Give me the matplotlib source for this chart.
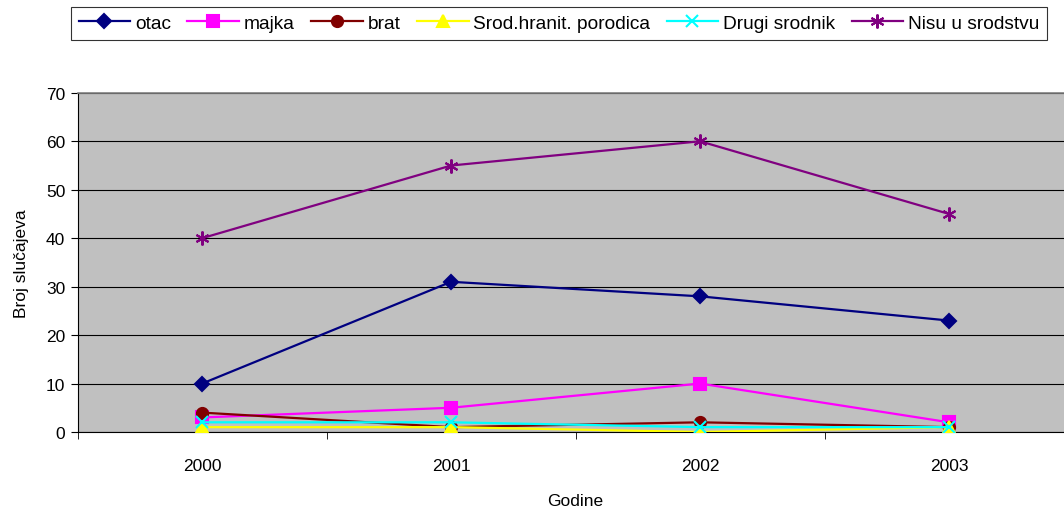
import matplotlib.pyplot as plt
import numpy as np

plt.rcParams['font.family'] = ['Liberation Sans', 'DejaVu Sans']

years = ["2000", "2001", "2002", "2003"]
otac = [10, 31, 28, 23]
majka = [3, 5, 10, 2]
brat = [4, 1, 2, 1]
srod_hranit = [1, 1, 0, 1]
drugi_srodnik = [2, 2, 1, 1]
nisu_u_srodstvu = [40, 55, 60, 45]

series = [
    ("otac", otac, "#000080", "D", 7),
    ("majka", majka, "#FF00FF", "s", 8),
    ("brat", brat, "#800000", "o", 8),
    ("Srod.hranit. porodica", srod_hranit, "#FFFF00", "^", 8),
    ("Drugi srodnik", drugi_srodnik, "#00FFFF", "x", 8),
    ("Nisu u srodstvu", nisu_u_srodstvu, "#800080", (6, 2, 0), 10),
]

fig = plt.figure(figsize=(10.64, 5.10), dpi=100)
# plot area runs past the right edge of the image, as in the original
ax = fig.add_axes([0.073, 0.151, 0.936, 0.665])
ax.set_facecolor("#C0C0C0")

x = np.arange(len(years))
for name, vals, col, mk, ms in series:
    ax.plot(x, vals, color=col, marker=mk, markersize=ms, linewidth=1.6,
            markeredgewidth=1.5, label=name, zorder=3)

ax.set_xlim(-0.5, len(years) - 0.5)
ax.set_ylim(0, 70)
ax.set_yticks(range(0, 71, 10))
ax.set_xticks(x)
ax.set_xticklabels(years)
ax.set_xticks(np.arange(-0.5, len(years), 1), minor=True)
ax.tick_params(axis="x", which="major", length=0, pad=19)
ax.tick_params(axis="x", which="minor", length=5, direction="out")
ax.tick_params(axis="y", length=5, direction="out", pad=4)
ax.tick_params(labelsize=12.5)
ax.yaxis.grid(True, color="black", linewidth=0.8)
ax.set_axisbelow(True)
for s in ax.spines.values():
    s.set_color("black")
    s.set_linewidth(0.8)
ax.spines["top"].set_color("#808080")
ax.spines["top"].set_linewidth(1.2)

ax.set_xlabel("Godine", fontsize=12.5, labelpad=14)
ax.set_ylabel("Broj slučajeva", fontsize=12.5, labelpad=12)

leg = fig.legend(loc="upper left", bbox_to_anchor=(0.063, 0.992), ncol=6,
                 fontsize=13.8, frameon=True, fancybox=False, edgecolor="black",
                 handlelength=2.7, handletextpad=0.25, columnspacing=0.85,
                 borderpad=0.4, borderaxespad=0.2)
leg.get_frame().set_linewidth(0.8)

fig.savefig("out.png", dpi=100)
